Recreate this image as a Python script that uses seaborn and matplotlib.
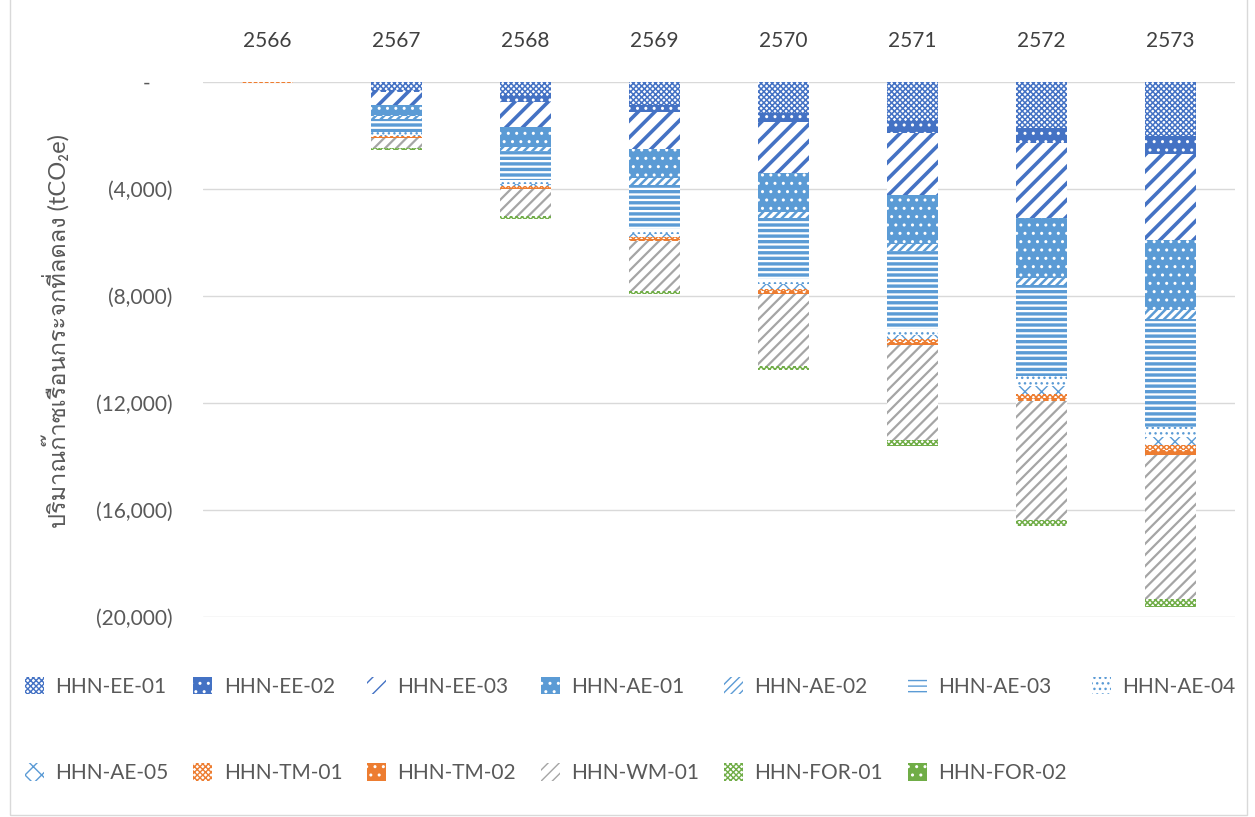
import numpy as np
import pandas as pd
import seaborn as sns
import matplotlib
matplotlib.use("Agg")
import matplotlib.pyplot as plt
import matplotlib.patches as mpatches
from matplotlib import font_manager, ft2font
from matplotlib.ticker import FuncFormatter


# data (tCO2e, negative = reduction)
years = ["2566", "2567", "2568", "2569", "2570", "2571", "2572", "2573"]

projects = ["HHN-EE-01", "HHN-EE-02", "HHN-EE-03", "HHN-AE-01", "HHN-AE-02",
            "HHN-AE-03", "HHN-AE-04", "HHN-AE-05", "HHN-TM-01", "HHN-TM-02",
            "HHN-WM-01", "HHN-FOR-01", "HHN-FOR-02"]

ee_01 = [0, -310, -540, -850, -1160, -1440, -1725, -2010]
ee_02 = [0, -60, -190, -275, -340, -450, -540, -675]
ee_03 = [0, -475, -940, -1390, -1890, -2340, -2810, -3225]
ae_01 = [0, -440, -775, -1090, -1460, -1810, -2240, -2600]
ae_02 = [0, -90, -140, -250, -250, -275, -290, -340]
ae_03 = [0, -475, -1060, -1625, -2250, -2910, -3375, -4040]
ae_04 = [0, -125, -150, -190, -200, -220, -375, -375]
ae_05 = [0, -50, -100, -125, -175, -150, -300, -310]
tm_01 = [-25, -40, -50, -60, -90, -125, -150, -175]
tm_02 = [-10, -40, -60, -100, -100, -100, -125, -190]
wm_01 = [-15, -350, -1000, -1840, -2690, -3575, -4460, -5400]
for_01 = [0, -60, -100, -125, -150, -190, -190, -250]
for_02 = [0, -10, -10, -15, -20, -25, -25, -25]

y_ticks = [0, -4000, -8000, -12000, -16000, -20000]
y_label = "ปริมาณก๊าซเรือนกระจกที่ลดลง (tCO₂e)"

series = [ee_01, ee_02, ee_03, ae_01, ae_02, ae_03, ae_04, ae_05,
          tm_01, tm_02, wm_01, for_01, for_02]

# pattern fills: facecolor, hatch colour, hatch, hatch linewidth
DB, LB, OR, GR, GN = "#4472C4", "#5B9BD5", "#ED7D31", "#A5A5A5", "#70AD47"
styles = {
    "HHN-EE-01": ("white", DB, "xxxxxx", 1.1),
    "HHN-EE-02": (DB, "white", "..", 1.0),
    "HHN-EE-03": ("white", DB, "//", 2.6),
    "HHN-AE-01": (LB, "white", "..", 1.0),
    "HHN-AE-02": ("white", LB, "////", 1.8),
    "HHN-AE-03": ("white", LB, "---", 2.4),
    "HHN-AE-04": ("white", LB, "...", 1.0),
    "HHN-AE-05": ("white", LB, "xx", 1.0),
    "HHN-TM-01": ("white", OR, "xxxxxx", 1.1),
    "HHN-TM-02": (OR, "white", "..", 1.0),
    "HHN-WM-01": ("white", GR, "///", 1.6),
    "HHN-FOR-01": ("white", GN, "xxxxxx", 1.1),
    "HHN-FOR-02": (GN, "white", "..", 1.0),
}


def thai_font():
    for f in font_manager.fontManager.ttflist:
        try:
            if ft2font.FT2Font(f.fname).get_char_index(0x0E01):
                return f.name
        except Exception:
            pass
    return None


sns.set_theme(style="white")
fams = ["Lato"]
tf = thai_font()
if tf:
    fams.append(tf)
fams.append("DejaVu Sans")
plt.rcParams["font.family"] = fams

fig = plt.figure(figsize=(12.55, 8.17), dpi=100)
ax = fig.add_axes([0.1618, 0.2448, 0.8222, 0.6548])

cum = np.cumsum(np.array(series), axis=0)

# draw cumulative totals from the deepest down, each one covering the previous
for i in range(len(projects) - 1, -1, -1):
    face, hcol, hatch, hlw = styles[projects[i]]
    df = pd.DataFrame({"year": years, "value": cum[i]})
    with plt.rc_context({"hatch.linewidth": hlw}):
        n0 = len(ax.patches)
        sns.barplot(data=df, x="year", y="value", color=face, saturation=1,
                    edgecolor=hcol, hatch=hatch, linewidth=0, width=0.4,
                    errorbar=None, ax=ax)
        for p in ax.patches[n0:]:
            if hasattr(p, "set_hatch_linewidth"):
                p.set_hatch_linewidth(hlw)

ax.set_ylim(-20000, 0)
ax.set_yticks(y_ticks)
ax.yaxis.set_major_formatter(FuncFormatter(
    lambda v, pos: "-    " if v == 0 else f"({abs(v):,.0f})"))
ax.xaxis.tick_top()
ax.set_xlabel("")
ax.set_ylabel(y_label, fontsize=17, color="#595959")
ax.yaxis.set_label_coords(-0.129, 0.535)
ax.tick_params(axis="y", length=0, pad=22, labelsize=15, labelcolor="#595959")
ax.tick_params(axis="x", length=0, pad=22, labelsize=15, labelcolor="#404040")
ax.grid(axis="y", color="#D9D9D9", lw=1)
ax.set_axisbelow(True)
for s in ax.spines.values():
    s.set_visible(False)

# legend, filled row by row like the original
handles = []
for name in projects:
    face, hcol, hatch, hlw = styles[name]
    with plt.rc_context({"hatch.linewidth": hlw}):
        h = mpatches.Patch(facecolor=face, edgecolor=hcol, hatch=hatch,
                           linewidth=0, label=name)
    if hasattr(h, "set_hatch_linewidth"):
        h.set_hatch_linewidth(hlw)
    handles.append(h)
row1, row2 = handles[:7], handles[7:]
order = []
for j in range(7):
    order.append(row1[j])
    if j < len(row2):
        order.append(row2[j])
fig.legend(handles=order, labels=[h.get_label() for h in order], ncol=7,
           loc="center left", bbox_to_anchor=(0.005, 0.1065), frameon=False,
           fontsize=15, labelcolor="#595959", handlelength=0.9,
           handleheight=0.9, handletextpad=0.55, columnspacing=1.2,
           labelspacing=3.2)

fig.patches.append(mpatches.Rectangle((0.008, 0.002), 0.986, 1.1,
                                      transform=fig.transFigure, fill=False,
                                      edgecolor="#D9D9D9", lw=1))

fig.savefig("out.png", dpi=100)
